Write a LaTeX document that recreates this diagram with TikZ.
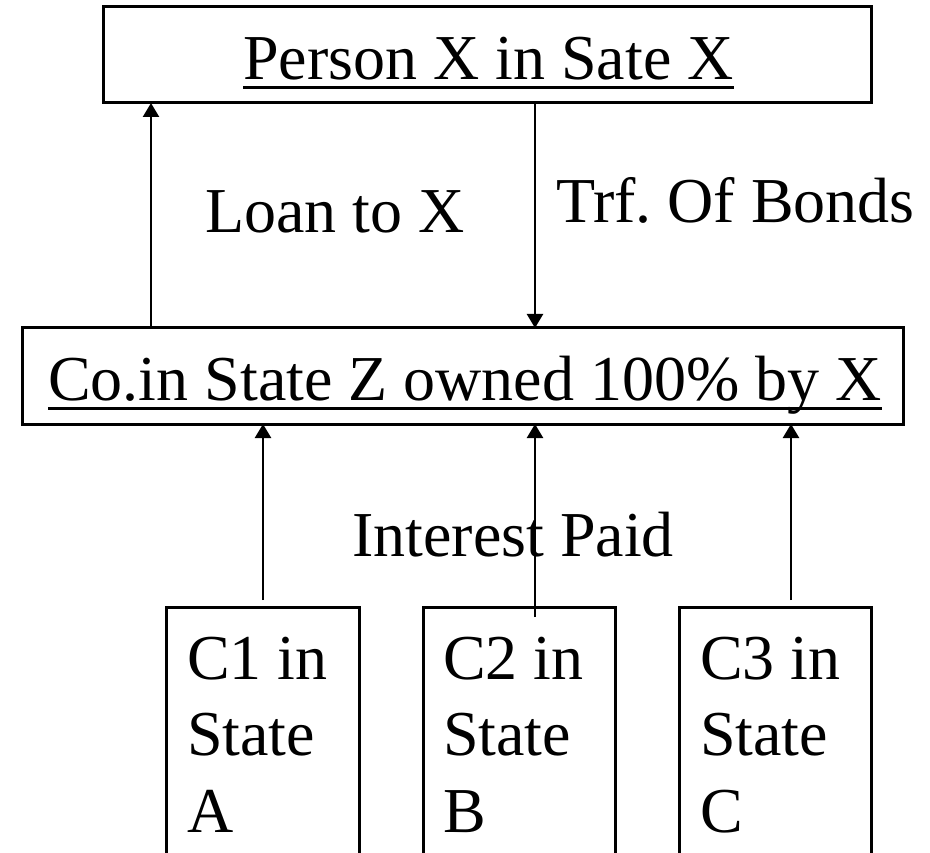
\documentclass[tikz,border=0pt]{standalone}
\usepackage{fontspec}
\setmainfont{Liberation Serif}
\usetikzlibrary{arrows.meta}
\frenchspacing
\begin{document}
\begin{tikzpicture}[x=1pt,y=-1pt,
  box/.style={draw, line width=3pt, inner sep=0pt, outer sep=0pt, anchor=north west},
  lbl/.style={inner sep=0pt, anchor=base west, font=\fontsize{64}{76.5}\selectfont\frenchspacing},
  arr/.style={line width=2.3pt, -{Triangle[length=14pt,width=16pt]}},
  uline/.style={line width=3pt}]
\useasboundingbox (0,0) rectangle (930,853);
\clip (0,0) rectangle (930,853);

% boxes
\node[box, minimum width=768pt, minimum height=96pt] (top) at (103,7) {};
\node[box, minimum width=881pt, minimum height=96pt] (mid) at (22,328) {};
\node[box, minimum width=193pt, minimum height=270pt] (c1) at (166,607) {};
\node[box, minimum width=192pt, minimum height=270pt] (c2) at (423,607) {};
\node[box, minimum width=192pt, minimum height=270pt] (c3) at (679,607) {};

% underlined titles
\node[lbl] (topt) at (243,80) {Person X in Sate X};
\draw[uline] ([yshift=-8pt]topt.base west) -- ([yshift=-8pt]topt.base east);
\node[lbl] (midt) at (48,400) {Co.in State Z owned 100\% by X};
\draw[uline] ([yshift=-8pt]midt.base west) -- ([yshift=-8pt]midt.base east);

% connector labels
\node[lbl] (loan) at (205,233) {Loan to X};
\node[lbl] (trf) at (556,223) {Trf. Of Bonds};
\node[lbl] (int) at (352,556) {Interest Paid};

% company texts
\node[lbl, anchor=north west, align=left] (c1t) at (187,629) {\rule{0pt}{50pt}C1 in\\State\\A};
\node[lbl, anchor=north west, align=left] (c2t) at (443,629) {\rule{0pt}{50pt}C2 in\\State\\B};
\node[lbl, anchor=north west, align=left] (c3t) at (700,629) {\rule{0pt}{50pt}C3 in\\State\\C};

% connectors
\coordinate (xL) at (151,0);
\coordinate (xT) at (535,0);
\coordinate (i1) at (263,600);
\coordinate (i2) at (535,617);
\coordinate (i3) at (791,600);
\draw[arr] (mid.north -| xL) -- (top.south -| xL);
\draw[arr] (top.south -| xT) -- (mid.north -| xT);
\draw[arr] (i1) -- (mid.south -| i1);
\draw[arr] (i2) -- (mid.south -| i2);
\draw[arr] (i3) -- (mid.south -| i3);
\end{tikzpicture}
\end{document}
